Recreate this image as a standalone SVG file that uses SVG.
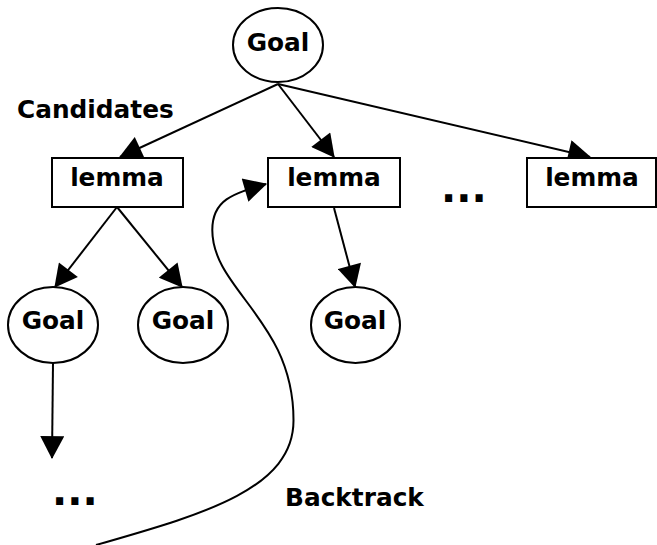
<svg xmlns="http://www.w3.org/2000/svg" width="657" height="545" viewBox="0 0 657 545">
<style>
  .node ellipse, .node rect { fill: #fff; stroke: #000; stroke-width: 2; }
  .lbl { font-family: "DejaVu Sans", "Liberation Sans", sans-serif; font-weight: bold; font-size: 24.8px; fill: #000; }
  .dots { font-family: "DejaVu Sans", "Liberation Sans", sans-serif; font-weight: bold; font-size: 40px; fill: #000; }
  .edges path, .edges line { fill: none; stroke: #000; stroke-width: 2; marker-end: url(#arr); }
</style>
<defs>
  <marker id="arr" markerUnits="userSpaceOnUse" markerWidth="24" markerHeight="24" viewBox="0 0 21 22" refX="20" refY="11" orient="auto">
    <path d="M0,0 L21,11 L0,22 z" fill="#000"/>
  </marker>
</defs>
<rect width="657" height="545" fill="#fff"/>
<g class="edges" id="connectors">
  <line x1="278" y1="84" x2="120" y2="157"/>
  <line x1="278" y1="84" x2="334" y2="157"/>
  <line x1="278" y1="84" x2="590" y2="157"/>
  <line x1="117" y1="207" x2="55" y2="287"/>
  <line x1="117" y1="207" x2="182" y2="287"/>
  <line x1="334" y1="208" x2="355" y2="287"/>
  <line x1="53" y1="363" x2="52" y2="458"/>
  <path d="M96,545 C200,515 294,490 293.5,420 C293.5,320 212.3,290 212.3,230 C212.3,200 232.4,193.8 266,184"/>
</g>
<g class="node" id="goal_top">
  <ellipse cx="278" cy="45" rx="45" ry="37"/>
  <text class="lbl" x="278" y="51" text-anchor="middle">Goal</text>
</g>
<g id="candidates_label">
  <text class="lbl" x="17" y="118">Candidates</text>
</g>
<g class="node" id="lemma1">
  <rect x="52" y="158" width="131" height="49"/>
  <text class="lbl" x="117" y="186" text-anchor="middle">lemma</text>
</g>
<g class="node" id="lemma2">
  <rect x="268" y="158" width="132" height="49"/>
  <text class="lbl" x="334" y="186" text-anchor="middle">lemma</text>
</g>
<g class="node" id="lemma3">
  <rect x="527" y="158" width="129" height="49"/>
  <text class="lbl" x="592" y="186" text-anchor="middle">lemma</text>
</g>
<g id="dots_mid">
  <text class="dots" x="441" y="202">...</text>
</g>
<g class="node" id="goal1">
  <ellipse cx="53" cy="325" rx="45" ry="38"/>
  <text class="lbl" x="53" y="329" text-anchor="middle">Goal</text>
</g>
<g class="node" id="goal2">
  <ellipse cx="183" cy="325" rx="45" ry="38"/>
  <text class="lbl" x="183" y="329" text-anchor="middle">Goal</text>
</g>
<g class="node" id="goal3">
  <ellipse cx="355.5" cy="325" rx="44.5" ry="38"/>
  <text class="lbl" x="355" y="329" text-anchor="middle">Goal</text>
</g>
<g id="dots_bottom">
  <text class="dots" x="52" y="505">...</text>
</g>
<g id="backtrack_label">
  <text class="lbl" x="285" y="506">Backtrack</text>
</g>
</svg>
